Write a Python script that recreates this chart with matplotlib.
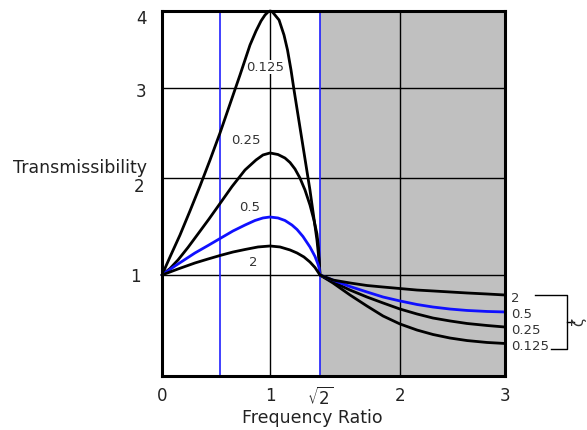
"""Transmissibility vs frequency ratio for several damping ratios."""
import matplotlib
matplotlib.use("Agg")
import matplotlib.pyplot as plt
import matplotlib.transforms as mtransforms
import numpy as np

plt.rcParams["mathtext.fontset"] = "dejavusans"

# values (frequency ratio, transmissibility)
r_tail = [1.509, 1.634, 1.758, 1.876, 2.0, 2.162, 2.314, 2.476, 2.638, 2.829, 3.0]

r_0125 = [0, 0.069, 0.155, 0.241, 0.328, 0.414, 0.5, 0.6, 0.7, 0.8, 0.86, 0.91, 0.95, 0.98, 1.0,
          1.017, 1.075, 1.116, 1.145, 1.174, 1.199, 1.232, 1.265, 1.298, 1.331, 1.36,
          1.389, 1.406, 1.414] + r_tail
t_0125 = [1, 1.186, 1.412, 1.66, 1.918, 2.2, 2.5, 2.822, 3.169, 3.558, 3.74, 3.87, 3.948, 3.987, 4.0,
          3.994, 3.883, 3.688, 3.494, 3.234, 2.978, 2.7, 2.422, 2.144, 1.876, 1.619,
          1.361, 1.155, 1.0,
          0.921, 0.802, 0.693, 0.594, 0.515, 0.455, 0.411, 0.376, 0.351, 0.332, 0.322]

r_025 = [0, 0.069, 0.138, 0.224, 0.31, 0.405, 0.5, 0.62, 0.75, 0.86, 0.93, 1.0, 1.066, 1.124,
         1.166, 1.207, 1.248, 1.29, 1.331, 1.364, 1.389, 1.402, 1.414] + r_tail
t_025 = [1, 1.067, 1.155, 1.284, 1.423, 1.577, 1.737, 1.912, 2.089, 2.2, 2.256, 2.278, 2.261,
         2.222, 2.172, 2.1, 2.0, 1.876, 1.722, 1.567, 1.423, 1.278, 1.0,
         0.931, 0.851, 0.782, 0.723, 0.663, 0.614, 0.574, 0.545, 0.52, 0.5, 0.485]

r_05 = [0, 0.112, 0.198, 0.284, 0.397, 0.5, 0.63, 0.75, 0.85, 0.93, 1.0, 1.066, 1.124, 1.182,
        1.224, 1.273, 1.331, 1.373, 1.397, 1.407, 1.414] + r_tail
t_05 = [1, 1.093, 1.16, 1.227, 1.304, 1.376, 1.454, 1.515, 1.562, 1.588, 1.598, 1.588, 1.562,
        1.515, 1.469, 1.397, 1.289, 1.191, 1.113, 1.072, 1.0,
        0.95, 0.886, 0.832, 0.782, 0.743, 0.708, 0.683, 0.663, 0.649, 0.639, 0.634]

r_2 = [0, 0.138, 0.284, 0.397, 0.5, 0.63, 0.75, 0.88, 1.0, 1.083, 1.166, 1.224, 1.281, 1.331,
       1.373, 1.414] + r_tail
t_2 = [1, 1.062, 1.124, 1.165, 1.201, 1.237, 1.263, 1.289, 1.299, 1.289, 1.258, 1.227, 1.186,
       1.134, 1.077, 1.0,
       0.95, 0.921, 0.896, 0.881, 0.866, 0.851, 0.842, 0.832, 0.822, 0.812, 0.802]

end_labels = ["2", "0.5", "0.25", "0.125"]
x_ticks = [0, 1, np.sqrt(2), 2, 3]
x_ticklabels = ["0", "1", r"$\sqrt{2}$", "2", "3"]
y_ticks = [1, 2, 3, 4]

# the drawing uses uneven axis spacing; these knots reproduce it
X_KNOTS = [0, 0.5, 1, np.sqrt(2), 2, 3]
X_POS = [0, 58, 108, 158, 238, 343]
Y_KNOTS = [0, 1, 2, 3, 4]
Y_POS = [0, 101, 198, 288, 365]


def piecewise(src, dst):
    def f(v):
        v = np.asarray(v, dtype=float)
        out = np.interp(v, src, dst)
        lo = (dst[1] - dst[0]) / (src[1] - src[0])
        hi = (dst[-1] - dst[-2]) / (src[-1] - src[-2])
        out = np.where(v < src[0], dst[0] + (v - src[0]) * lo, out)
        out = np.where(v > src[-1], dst[-1] + (v - src[-1]) * hi, out)
        return out
    return f


fig = plt.figure(figsize=(5.87, 4.30), dpi=100)
ax = fig.add_axes([162 / 587, 1 - 376 / 430, 343 / 587, 365 / 430])
ax.set_xscale("function", functions=(piecewise(X_KNOTS, X_POS), piecewise(X_POS, X_KNOTS)))
ax.set_yscale("function", functions=(piecewise(Y_KNOTS, Y_POS), piecewise(Y_POS, Y_KNOTS)))
ax.set_xlim(0, 3)
ax.set_ylim(0, 4)

# isolation region and reference lines
ax.axvspan(np.sqrt(2), 3, color="#c0c0c0", zorder=0)
for y in [1, 2, 3]:
    ax.axhline(y, color="black", lw=1, zorder=1)
for x in [1, 2]:
    ax.axvline(x, color="black", lw=1, zorder=1)
ax.axvline(0.5, color="#2020ff", lw=1.2, zorder=1)
ax.axvline(np.sqrt(2), color="#2020ff", lw=1.2, zorder=1)

for r, t, c in [(r_0125, t_0125, "black"), (r_025, t_025, "black"),
                (r_05, t_05, "#1010ff"), (r_2, t_2, "black")]:
    ax.plot(r, t, color=c, lw=2, zorder=3, clip_on=False,
            solid_joinstyle="round", solid_capstyle="round")

# curve labels inside the plot
lab_kw = dict(ha="center", va="center", fontsize=9.5, color="#333333", zorder=2)
ax.text(0.95, 3.27, "0.125", bbox=dict(fc="white", ec="none", pad=0.5), **lab_kw)
ax.text(0.76, 2.42, "0.25", **lab_kw)
ax.text(0.80, 1.70, "0.5", **lab_kw)
ax.text(0.83, 1.13, "2", **lab_kw)

# labels at the right end + bracket
end_kw = dict(ha="left", va="center", fontsize=9.5, color="#333333", clip_on=False)
for lab, t in zip(end_labels, [t_2[-1], t_05[-1], t_025[-1], t_0125[-1]]):
    ax.text(3.06, t - 0.03, lab, **end_kw)
fig.add_artist(plt.Line2D([535 / 587, 567 / 587, 567 / 587, 551 / 587],
                          [1 - 295 / 430, 1 - 295 / 430, 1 - 349 / 430, 1 - 349 / 430],
                          color="black", lw=1))
fig.add_artist(plt.Line2D([567 / 587, 574 / 587], [1 - 322 / 430, 1 - 322 / 430],
                          color="black", lw=1))
fig.text(579 / 587, 1 - 322 / 430, "ζ", rotation=90, ha="center", va="center",
         fontsize=11, color="#333333")

ax.set_xticks(x_ticks)
ax.set_xticklabels(x_ticklabels)
ax.set_yticks(y_ticks)
ax.tick_params(length=0, labelsize=12, colors="#222222")
ax.tick_params(axis="x", pad=8)
ax.tick_params(axis="y", pad=11)
# nudge the y labels to where the drawing has them (pixels)
y_nudge = {1: (-6, 0), 2: (-2, -7), 3: (0, -2), 4: (0, -6)}
for val, lab in zip(y_ticks, ax.get_yticklabels()):
    dx, dy = y_nudge[val]
    lab.set_transform(lab.get_transform() +
                      mtransforms.ScaledTranslation(dx / 100, dy / 100, fig.dpi_scale_trans))
for s in ax.spines.values():
    s.set_linewidth(2.2)
    s.set_zorder(4)

fig.text(80 / 587, 1 - 168 / 430, "Transmissibility", ha="center", va="center",
         fontsize=12.5, color="#222222")
fig.text(312 / 587, 1 - 418 / 430, "Frequency Ratio", ha="center", va="center",
         fontsize=12.5, color="#222222")

fig.savefig("out.png", dpi=100)
